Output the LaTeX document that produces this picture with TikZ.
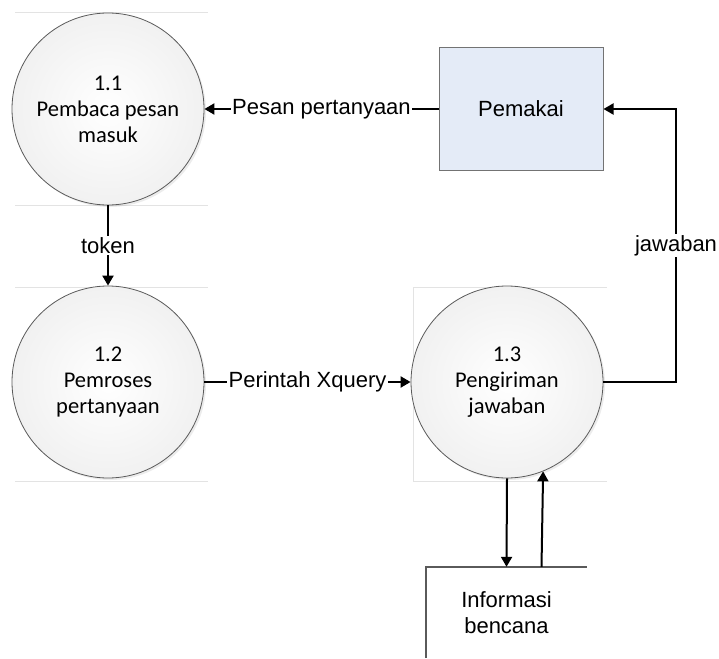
\documentclass[tikz,border=0pt]{standalone}
\usepackage{fontspec}
\setmainfont{Liberation Sans}
\newfontfamily\calibri{Carlito}
\usetikzlibrary{arrows.meta,shadows}
\definecolor{entity-blue}{HTML}{E4EBF7}
\definecolor{edge-gray}{HTML}{5A5A5A}

\begin{document}
\begin{tikzpicture}[x=1pt, y=-1pt,
      every node/.style={font=\fontsize{22}{26}\selectfont},
      process/.style={circle, draw=edge-gray, line width=0.8pt, inner color=white, outer color=gray!11,
          drop shadow={opacity=0.15, shadow xshift=2pt, shadow yshift=-2pt},
          minimum size=192pt, inner sep=0pt, align=center, font=\calibri\fontsize{22.5}{26}\selectfont},
      entity/.style={draw=gray!90!black, fill=entity-blue, line width=1pt, minimum width=164pt, minimum height=122pt},
      store/.style={minimum width=161pt, minimum height=91pt, inner sep=0pt, align=center},
      storeline/.style={draw=edge-gray, line width=1.4pt},
      guide/.style={gray!22, line width=0.6pt},
      flow/.style={-{Triangle[length=10pt,width=11pt]}, line width=2pt},
      lbl/.style={fill=white, inner sep=1.5pt}]
    \useasboundingbox (0,0) rectangle (719,658);
    \draw[guide] (15,12) -- (208,12) (15,205) -- (208,205);
    \draw[guide] (15,287) -- (208,287) (15,481) -- (208,481);
    \draw[guide] (607,287) -- (413,287) -- (413,481) -- (607,481);
    \node[process] (p1) at (108,109) {1.1\\Pembaca pesan\\masuk};
    \node[process] (p2) at (108,382) {1.2\\Pemroses\\pertanyaan};
    \node[process] (p3) at (507,382) {1.3\\Pengiriman\\jawaban};
    \node[entity] (pemakai) at (521,109) {Pemakai};
    \node[store] (store) at (506.5,612.5) {Informasi\\bencana};
    \draw[storeline] (store.south west) -- (store.north west) -- (store.north east);
    \coordinate (turn) at (676,382);
    \draw[flow] (pemakai.west) -- node[lbl] {Pesan pertanyaan} (p1.east);
    \draw[flow] (p1.south) -- node[lbl] {token} (p2.north);
    \draw[flow] (p2.east) -- node[lbl] {Perintah Xquery} (p3.west);
    \draw[flow] (p3.east) -- (turn) |- node[pos=0.25, lbl] {jawaban} (pemakai.east);
    \draw[flow] (p3.south) -- (store.north);
    \draw[flow] ([xshift=35pt]store.north) -- (p3.-68);
\end{tikzpicture}
\end{document}
